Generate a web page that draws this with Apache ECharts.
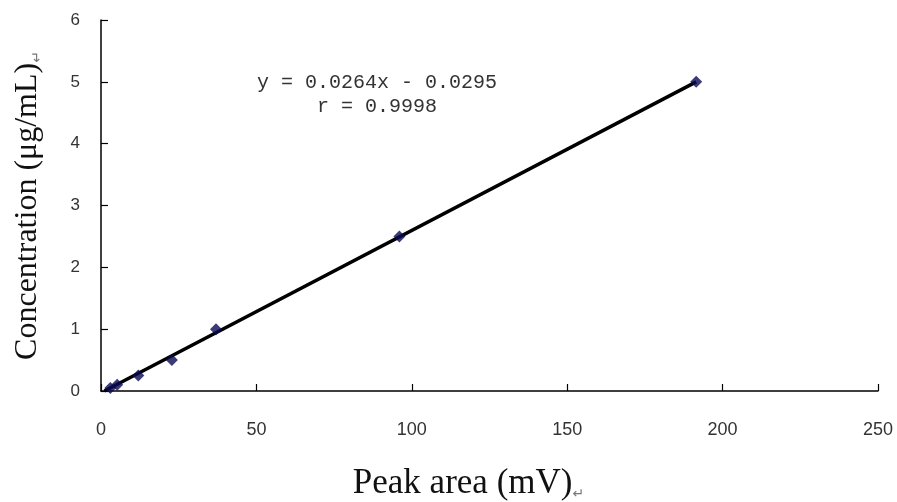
<!DOCTYPE html>
<html>
<head>
<meta charset="utf-8">
<script src="https://cdn.jsdelivr.net/npm/echarts@6/dist/echarts.min.js"></script>
<style>html,body{margin:0;padding:0;background:#fff;}#c{width:897px;height:502px;}</style>
</head>
<body>
<div id="c"></div>
<script>
const peakArea = [3.0, 5.2, 12.0, 22.8, 37.0, 96.0, 191.5];
const concentration = [0.05, 0.1, 0.25, 0.5, 1.0, 2.5, 5.0];
const trendX = [1.1, 191.5];
const trendY = [0.0, 5.0];
const xTicks = [0, 50, 100, 150, 200, 250];
const yTicks = [0, 1, 2, 3, 4, 5, 6];
const equationLines = ['y = 0.0264x - 0.0295', 'r = 0.9998'];
const xTitle = 'Peak area (mV)';
const yTitle = 'Concentration (μg/mL)';

const chart = echarts.init(document.getElementById('c'));
chart.setOption({
  animation: false,
  backgroundColor: '#ffffff',
  grid: { left: 101, right: 19, top: 20, bottom: 111, containLabel: false, outerBoundsMode: 'none' },
  xAxis: {
    type: 'value', min: xTicks[0], max: xTicks[xTicks.length - 1], interval: 50,
    axisLine: { show: true, lineStyle: { color: '#000', width: 1.5 } },
    axisTick: { show: true, inside: true, length: 7, lineStyle: { color: '#000', width: 1.2 } },
    splitLine: { show: false },
    axisLabel: { color: '#333', fontFamily: 'Liberation Sans, Arial, sans-serif', fontSize: 18, margin: 30 },
    name: '{t|' + xTitle + '}{m|↵}',
    nameLocation: 'middle', nameGap: 75,
    nameTextStyle: {
      padding: [0, 42, 0, 0],
      rich: {
        t: { fontFamily: 'Liberation Serif, Times New Roman, serif', fontSize: 35, color: '#111' },
        m: { fontFamily: 'DejaVu Sans, sans-serif', fontSize: 14, color: '#777', verticalAlign: 'bottom' }
      }
    }
  },
  yAxis: {
    type: 'value', min: yTicks[0], max: yTicks[yTicks.length - 1], interval: 1,
    axisLine: { show: true, lineStyle: { color: '#000', width: 1.5 } },
    axisTick: { show: true, inside: true, length: 7, lineStyle: { color: '#000', width: 1.2 } },
    splitLine: { show: false },
    axisLabel: { color: '#333', fontFamily: 'Liberation Sans, Arial, sans-serif', fontSize: 17, margin: 21 },
    name: '{t|' + yTitle + '}{m|↵}',
    nameLocation: 'middle', nameGap: 57,
    nameTextStyle: {
      rich: {
        t: { fontFamily: 'Liberation Serif, Times New Roman, serif', fontSize: 32, color: '#111' },
        m: { fontFamily: 'DejaVu Sans, sans-serif', fontSize: 14, color: '#777', verticalAlign: 'bottom' }
      }
    }
  },
  series: [
    {
      type: 'line',
      data: trendX.map((x, i) => [x, trendY[i]]),
      symbol: 'none',
      lineStyle: { color: '#000', width: 3.5 },
      z: 2, silent: true
    },
    {
      type: 'scatter',
      data: peakArea.map((x, i) => [x, concentration[i]]),
      symbol: 'diamond',
      symbolSize: 12,
      itemStyle: { color: '#0a0a55' },
      z: 3
    }
  ],
  graphic: [
    {
      type: 'text', x: 377, y: 83,
      style: { text: equationLines[0], fontFamily: 'Liberation Mono, DejaVu Sans Mono, monospace', fontSize: 20, fill: '#333', textAlign: 'center', textVerticalAlign: 'middle', align: 'center', verticalAlign: 'middle' }
    },
    {
      type: 'text', x: 377, y: 107,
      style: { text: equationLines[1], fontFamily: 'Liberation Mono, DejaVu Sans Mono, monospace', fontSize: 20, fill: '#333', textAlign: 'center', textVerticalAlign: 'middle', align: 'center', verticalAlign: 'middle' }
    }
  ]
});
</script>
</body>
</html>
